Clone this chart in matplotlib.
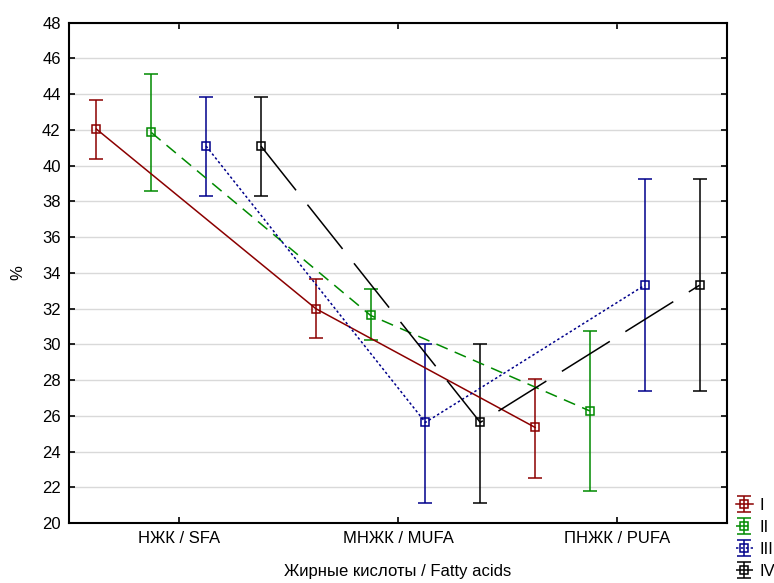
import matplotlib
matplotlib.use("Agg")
import matplotlib.pyplot as plt
from matplotlib.legend_handler import HandlerErrorbar
import numpy as np

plt.rcParams['font.family'] = ['Liberation Sans', 'DejaVu Sans']

categories = ["НЖК / SFA", "МНЖК / MUFA", "ПНЖК / PUFA"]
series_names = ["I", "II", "III", "IV"]
means = {
    "I":   [42.05, 32.0, 25.35],
    "II":  [41.86, 31.62, 26.27],
    "III": [41.1, 25.63, 33.31],
    "IV":  [41.1, 25.63, 33.31],
}
lower = {
    "I":   [40.39, 30.35, 22.51],
    "II":  [38.59, 30.24, 21.8],
    "III": [38.29, 21.13, 27.37],
    "IV":  [38.29, 21.13, 27.37],
}
upper = {
    "I":   [43.7, 33.63, 28.08],
    "II":  [45.14, 33.11, 30.73],
    "III": [43.84, 30.02, 39.27],
    "IV":  [43.84, 30.02, 39.27],
}
yticks = list(range(20, 49, 2))

colors = {"I": "#8b0000", "II": "#008a00", "III": "#00008b", "IV": "#000000"}
styles = {"I": "-", "II": (0, (8, 5)), "III": (0, (1.6, 1.6)), "IV": (0, (37, 12))}
offsets = {"I": -0.375, "II": -0.125, "III": 0.125, "IV": 0.375}

FS = 12

fig = plt.figure(figsize=(7.74, 5.83), dpi=100)
ax = fig.add_axes([0.0891, 0.1029, 0.8502, 0.8581])

x = np.arange(len(categories))
handles = []
for name in series_names:
    m = np.array(means[name])
    lo = m - np.array(lower[name])
    hi = np.array(upper[name]) - m
    c = colors[name]
    h = ax.errorbar(x + offsets[name], m, yerr=[lo, hi], color=c, ecolor=c,
                    elinewidth=1.1, capsize=5, capthick=1.1,
                    marker='s', markersize=5.5, mfc='none', mec=c, mew=1.1,
                    linestyle=styles[name], linewidth=1.1, label=name, zorder=3)
    handles.append(h)

ax.set_xlim(-0.5, 2.5)
ax.set_ylim(20, 48)
ax.set_xticks(x)
ax.set_xticklabels(categories, fontsize=FS)
ax.set_yticks(yticks)
ax.set_yticklabels([str(v) for v in yticks], fontsize=FS)
ax.tick_params(direction='in', length=4, width=1.2, top=True, right=True, pad=6)
ax.yaxis.grid(True, color='#d9d9d9', linewidth=1.0, zorder=0)
ax.set_axisbelow(True)
for s in ax.spines.values():
    s.set_linewidth(1.5)

ax.set_xlabel("Жирные кислоты / Fatty acids", fontsize=FS, labelpad=13)
ax.set_ylabel("%", fontsize=FS, labelpad=12)

fig.legend(handles=handles, labels=series_names, loc='upper left',
           bbox_to_anchor=(0.951, 0.146), frameon=False, fontsize=FS,
           handlelength=1.0, handletextpad=0.4, labelspacing=0.42,
           borderpad=0, borderaxespad=0,
           handler_map={type(handles[0]): HandlerErrorbar(yerr_size=0.5)})

fig.savefig("out.png", dpi=100)
